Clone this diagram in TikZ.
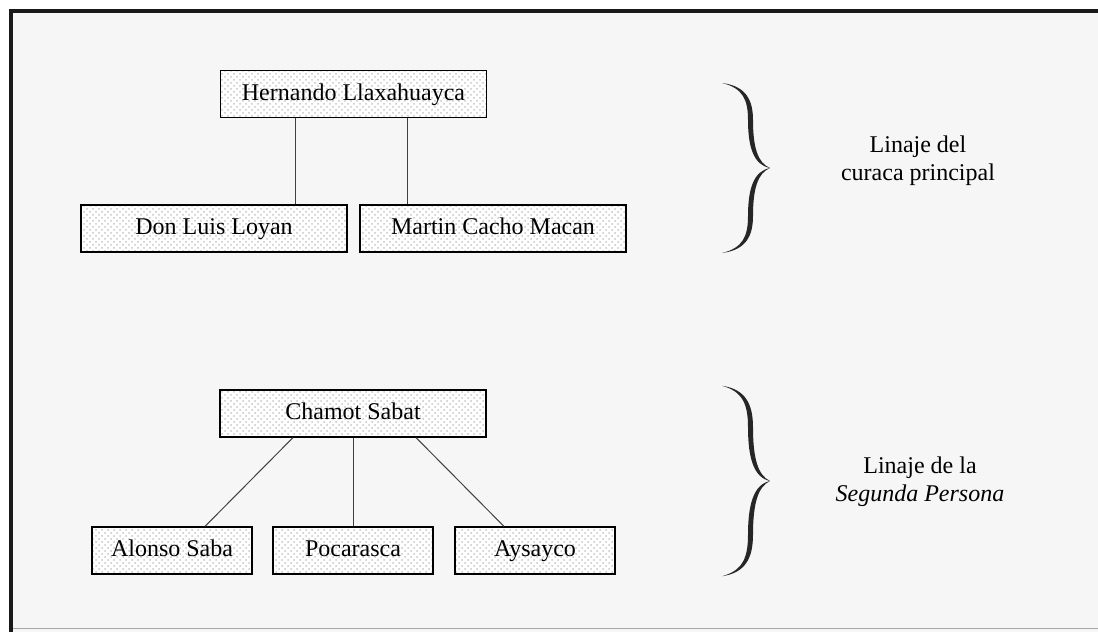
\documentclass[tikz,border=0pt]{standalone}
\usepackage{fontspec}
\setmainfont{Liberation Serif}
\usetikzlibrary{patterns}

\tikzset{
	caja/.style={draw=black, line width=0.6pt, preaction={fill=white}, pattern=crosshatch dots, pattern color=gray!45, inner sep=0pt, minimum height=23.5pt, text height=8.6pt, text depth=2.6pt, font=\fontsize{12}{14}\selectfont},
	ancha/.style={caja, minimum width=133pt},
	angosta/.style={caja, minimum width=80pt},
	linea/.style={draw=black!75, line width=0.5pt},
	rotulo/.style={align=center, font=\fontsize{12}{14}\selectfont},
}

% Llave: punta en (#1,#2), escala vertical #3
\newcommand{\llave}[3]{
	\begin{scope}[shift={(#1,#2)}, yscale=#3]
		\fill[black!85] (-48,-85) .. controls (-24,-82) and (-17,-68) .. (-17,-48)
			.. controls (-17,-20) and (-12,-5) .. (0,0)
			.. controls (-12,5) and (-17,20) .. (-17,48)
			.. controls (-17,68) and (-24,82) .. (-48,85)
			.. controls (-27,80) and (-22,68) .. (-22,48)
			.. controls (-22,20) and (-16,3) .. (0,0)
			.. controls (-16,-3) and (-22,-20) .. (-22,-48)
			.. controls (-22,-68) and (-27,-80) .. (-48,-85) -- cycle;
	\end{scope}
}

\begin{document}
\begin{tikzpicture}[x=0.5pt, y=-0.5pt]
	
	\useasboundingbox (0,0) rectangle (1098,632);
	
	% Fondo y marco
	\fill[gray!7] (10,10) rectangle (1098,632);
	\draw[black!35, line width=0.4pt] (10,628) -- (1098,628);
	\draw[black!90, line width=2pt] (11,632) -- (11,11) -- (1098,11);
	
	% Linaje del curaca principal
	\node[ancha] (Hernando) at (353.5,94) {Hernando Llaxahuayca};
	\node[ancha] (Luis) at (214,228.5) {Don Luis Loyan};
	\node[ancha] (Martin) at (493,228.5) {Martin Cacho Macan};
	
	% Linaje de la segunda persona
	\node[ancha] (Chamot) at (353,413.5) {Chamot Sabat};
	\node[angosta] (Alonso) at (172,550.5) {Alonso Saba};
	\node[angosta] (Pocarasca) at (353,550.5) {Pocarasca};
	\node[angosta] (Aysayco) at (535,550.5) {Aysayco};
	
	% Conexiones
	\draw[linea] ([xshift=-29pt]Hernando.south) -- ([xshift=-29pt]Hernando.south |- Luis.north);
	\draw[linea] ([xshift=27pt]Hernando.south) -- ([xshift=27pt]Hernando.south |- Martin.north);
	\draw[linea] ([xshift=-30pt]Chamot.south) -- ([xshift=16.5pt]Alonso.north);
	\draw[linea] (Chamot.south) -- (Pocarasca.north);
	\draw[linea] ([xshift=31.5pt]Chamot.south) -- ([xshift=-15.5pt]Aysayco.north);
	
	% Llaves
	\llave{770}{168}{1}
	\llave{770}{481}{1.12}
	
	% Etiquetas
	\node[rotulo] (Principal) at (918,161) {Linaje del\\curaca principal};
	\node[rotulo] (Segunda) at (920,482) {Linaje de la\\\textit{Segunda Persona}};
	
\end{tikzpicture}
\end{document}
